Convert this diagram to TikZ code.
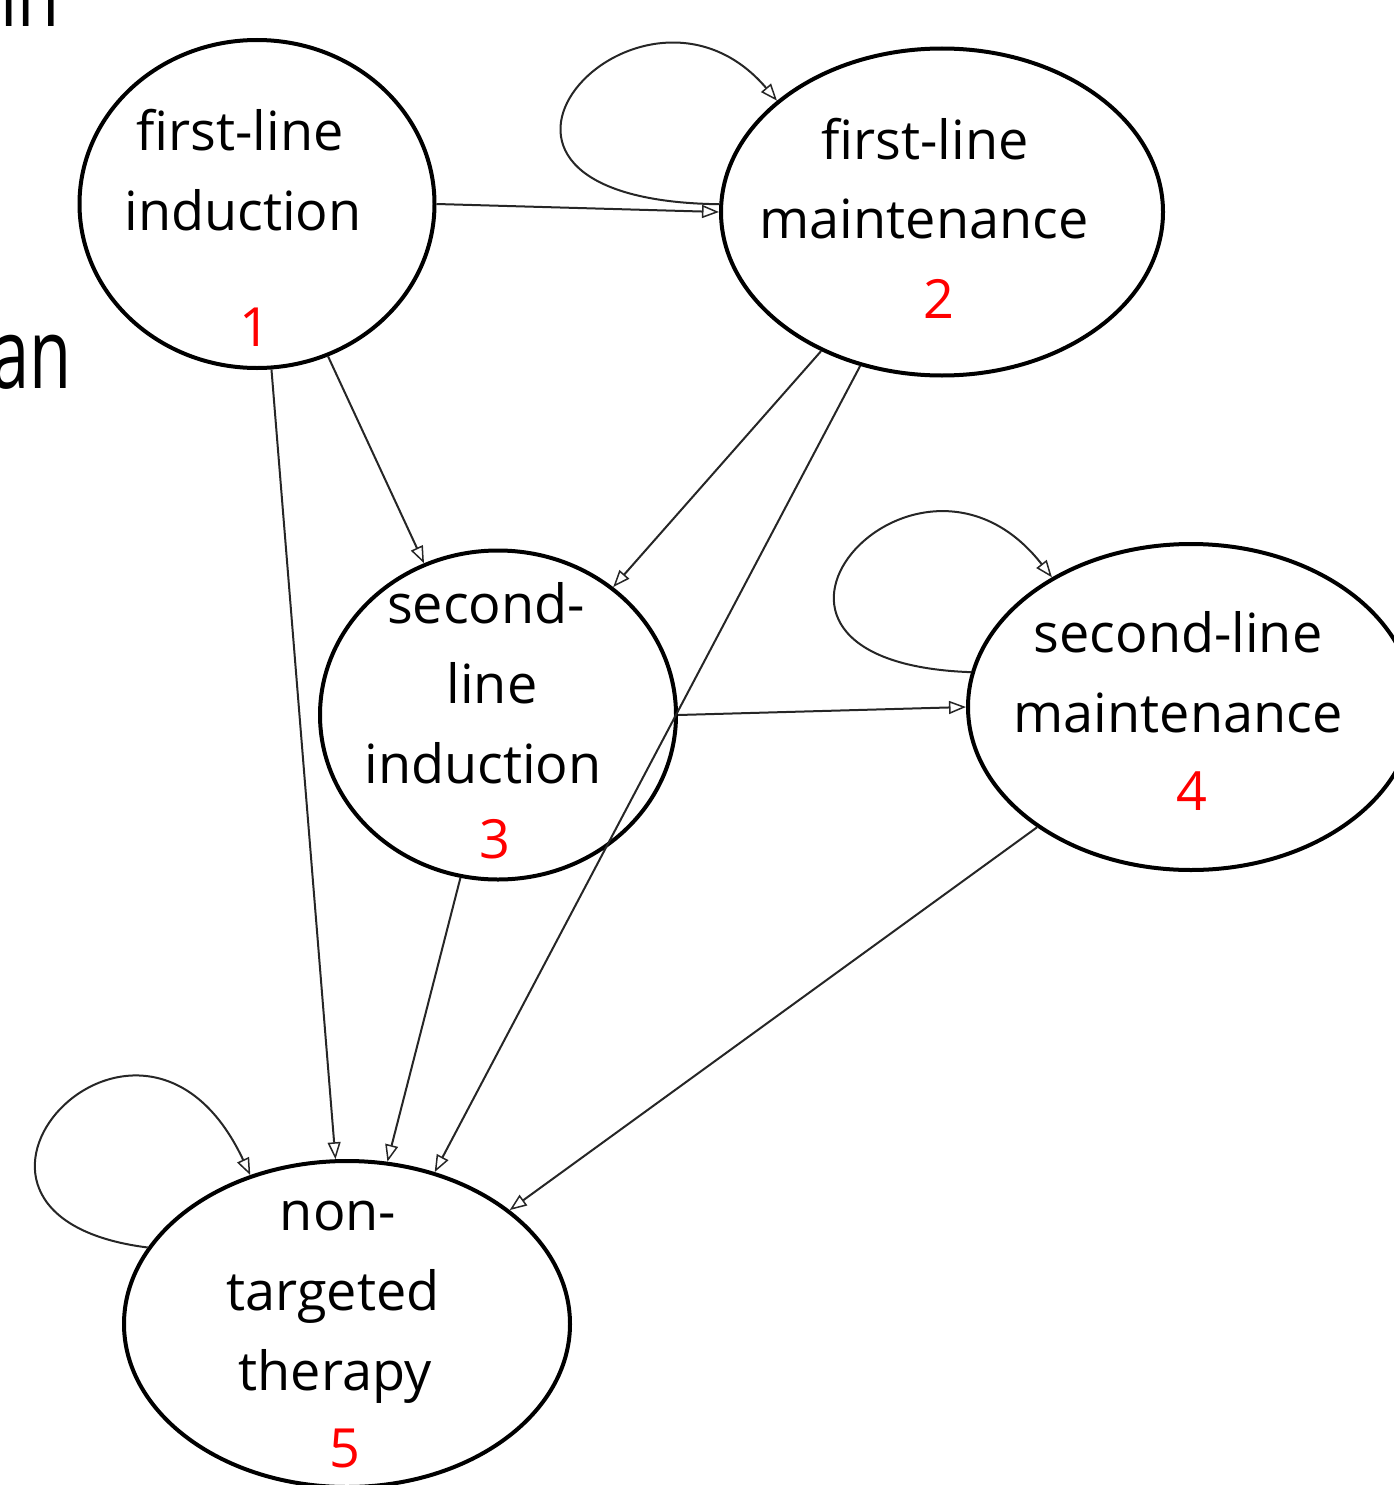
\documentclass[tikz,border=0pt]{standalone}
\usepackage{fontspec}
\setmainfont{Open Sans}
\usetikzlibrary{shapes.geometric,arrows.meta}
\begin{document}
\begin{tikzpicture}[x=1pt,y=-1pt,
  state/.style={ellipse,draw=black,line width=4pt,inner sep=0pt},
  lbl/.style={anchor=base,inner sep=0pt,font=\fontsize{54}{60}\selectfont},
  num/.style={lbl,text=red},
  frag/.style={inner sep=0pt,xscale=0.7,font=\fontsize{98}{120}\selectfont},
  edge/.style={draw=black!85,line width=2pt,-{Triangle[open,length=17pt,width=13pt,line width=1.5pt]}}]
\useasboundingbox (0,0) rectangle (1394,1485);
% cut-off slide text
\node[frag,anchor=base east] (fa) at (60,27) {in};
\node[frag,anchor=base east] (fb) at (72,388) {an};
% states
\node[state,minimum width=355pt,minimum height=328pt] (n1) at (257,204) {};
\node[state,minimum width=442pt,minimum height=327pt] (n2) at (942,212) {};
\node[state,minimum width=356pt,minimum height=329pt] (n3) at (498,715) {};
\node[state,minimum width=446pt,minimum height=326pt] (n4) at (1191,707) {};
\node[state,minimum width=446pt,minimum height=326pt] (n5) at (347,1324) {};
% labels
\node[lbl] (l1a) at (240,150) {first-line};
\node[lbl] (l1b) at (243,230) {induction};
\node[num] (l1c) at (255,346) {1};
\node[lbl] (l2a) at (925,159) {first-line};
\node[lbl] (l2b) at (924,238) {maintenance};
\node[num] (l2c) at (939,318) {2};
\node[lbl] (l3a) at (486,623) {second-};
\node[lbl] (l3b) at (492,703) {line};
\node[lbl] (l3c) at (483,783) {induction};
\node[num] (l3d) at (495,858) {3};
\node[lbl] (l4a) at (1178,652) {second-line};
\node[lbl] (l4b) at (1178,732) {maintenance};
\node[num] (l4c) at (1192,810) {4};
\node[lbl] (l5a) at (338,1230) {non-};
\node[lbl] (l5b) at (333,1310) {targeted};
\node[lbl] (l5c) at (335,1390) {therapy};
\node[num] (l5d) at (345,1467) {5};
% transitions
\draw[edge] (n1.0) -- (n2.180);
\draw[edge] (n1.-65) -- (n3.116);
\draw[edge] (n1.-85.5) -- (n5.94);
\draw[edge] (n2.-131) -- (n3.48);
\draw[edge] (n2.-118.3) -- (n5.60.8);
\draw[edge] (n3.0) -- (n4.180);
\draw[edge] (n3.-103) -- (n5.76.8);
\draw[edge] (n4.-142.5) -- (n5.35.3);
% self loops
\draw[edge] (n2.178) .. controls (400,200) and (640,-60) .. (n2.146);
\draw[edge] (n4.171) .. controls (685,662) and (915,402) .. (n4.137);
\draw[edge] (n5.159) .. controls (-110,1215) and (140,940) .. (n5.123);
\end{tikzpicture}
\end{document}
